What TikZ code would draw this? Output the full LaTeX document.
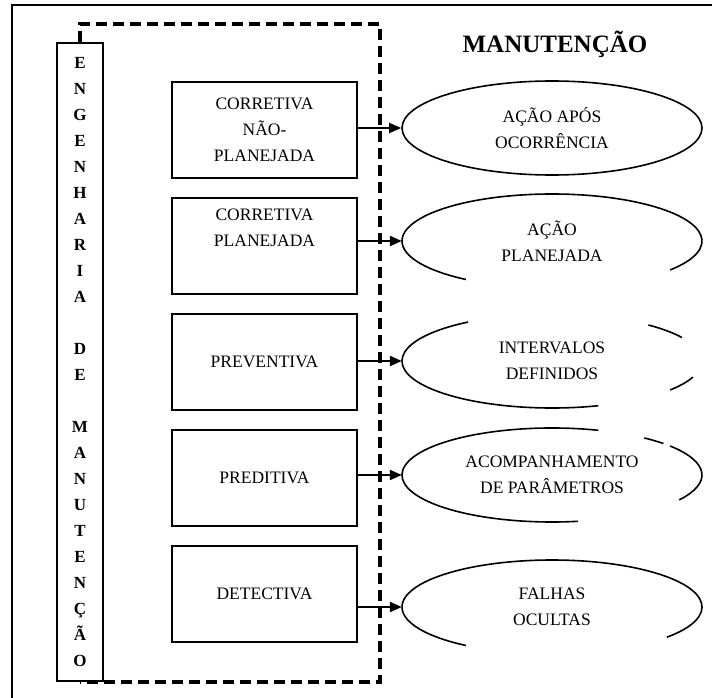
\documentclass[tikz,border=0pt]{standalone}
\usepackage{fontspec}
\setmainfont{Liberation Serif}
\usetikzlibrary{shapes,arrows.meta,positioning}
\newcommand{\kindwidth}{185pt}
\newcommand{\goalwidth}{300pt}
\newcommand{\goalheight}{94pt}
\tikzset{
    kind/.style = { draw, line width=2pt, rectangle, align=center,
        outer sep = 0pt, inner sep = 0pt,
        font=\fontsize{17.5}{26}\selectfont,
        minimum width = \kindwidth,
        minimum height = 96pt
    },
    goal/.style = { ellipse, align=center, inner sep = 0pt,
        font=\fontsize{17.5}{26}\selectfont,
        minimum width = \goalwidth,
        minimum height = \goalheight
    },
    column/.style = { draw, line width=1.8pt, rectangle, align=center,
        inner sep = 0pt,
        font=\fontsize{17}{26}\selectfont\bfseries,
        minimum width = 46pt,
        minimum height = 638pt
    },
    title/.style = { font=\fontsize{25}{30}\selectfont\bfseries },
    rim/.style = { line width=1.6pt },
    group/.style = { line width=3.4pt, dash pattern=on 11pt off 6pt },
    frame/.style = { line width=1.8pt },
    arrow/.style = { -{Triangle[length=12pt,width=10pt]}, line width=2pt }
}
\newcommand{\rimarc}[3]{\draw[rim] (#1.center) ++(#2:150 and 47) arc[start angle=#2, end angle=#3, x radius=150, y radius=47];}

\begin{document}
\begin{tikzpicture}[x=1pt, y=-1pt]
        \useasboundingbox (0,0) rectangle (712,698);
        \draw[frame] (12,698) |- (712,5);

        % left column and dashed group
        \node[column] (eng) at (80,362) {E\\N\\G\\E\\N\\H\\A\\R\\I\\A\\[26pt]D\\E\\[26pt]M\\A\\N\\U\\T\\E\\N\\Ç\\Ã\\O};
        \draw[group] (eng.north) |- (380,24) |- (eng.south);

        \node[title, anchor=base] (head) at (555,53) {MANUTENÇÃO};

        % kinds...
        \node[kind] (k1) at (264.5,130) {CORRETIVA\\NÃO-\\PLANEJADA};
        \node[kind] (k2) [below=20pt of k1] {CORRETIVA\\PLANEJADA\\[10pt]};
        \node[kind] (k3) [below=20pt of k2] {PREVENTIVA};
        \node[kind] (k4) [below=20pt of k3] {PREDITIVA};
        \node[kind] (k5) [below=20pt of k4] {DETECTIVA};

        % goals...
        \node[goal, draw, rim] (g1) at (552,128) {AÇÃO APÓS\\OCORRÊNCIA};
        \node[goal] (g2) at (552,241) {AÇÃO\\PLANEJADA};
        \node[goal] (g3) at (552,361) {INTERVALOS\\DEFINIDOS};
        \node[goal] (g4) at (552,475) {ACOMPANHAMENTO\\DE PARÂMETROS};
        \node[goal] (g5) at (552,607) {FALHAS\\OCULTAS};

        % broken rims
        \rimarc{g2}{38}{-235}
        \rimarc{g3}{-124}{-288}
        \rimarc{g3}{-30}{-50}
        \rimarc{g3}{38}{20}
        \rimarc{g4}{-72}{-280}
        \rimarc{g4}{32}{-38}
        \rimarc{g4}{-42}{-52}
        \rimarc{g5}{40}{-235}

        \draw[arrow] (k1.east |- g1.west) -- (g1.west);
        \draw[arrow] (k2.east |- g2.west) -- (g2.west);
        \draw[arrow] (k3.east |- g3.west) -- (g3.west);
        \draw[arrow] (k4.east |- g4.west) -- (g4.west);
        \draw[arrow] (k5.east |- g5.west) -- (g5.west);
\end{tikzpicture}
\end{document}
